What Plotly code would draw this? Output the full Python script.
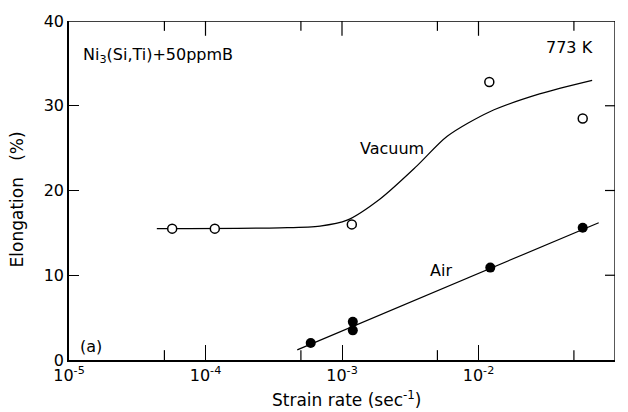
import plotly.graph_objects as go

# Data
vac_rate = [5.7e-5, 1.17e-4, 1.18e-3, 1.2e-2, 5.8e-2]
vac_elong = [15.5, 15.5, 16.0, 32.8, 28.5]
air_rate = [5.9e-4, 1.2e-3, 1.2e-3, 1.22e-2, 5.8e-2]
air_elong = [2.0, 4.5, 3.5, 10.9, 15.6]

# Hand-drawn trend curves
vac_curve_x = [4.4e-5, 3.5e-4, 6.9e-4, 1.09e-3, 1.9e-3, 3.54e-3, 5.9e-3, 1.21e-2, 2.8e-2, 6.8e-2]
vac_curve_y = [15.5, 15.6, 15.8, 16.5, 19.0, 22.9, 26.4, 29.3, 31.4, 33.0]
air_curve_x = [4.7e-4, 7.6e-2]
air_curve_y = [1.2, 16.2]

x_tickvals = [1e-5, 1e-4, 1e-3, 1e-2, 1e-1]
x_ticktext = ["10<sup>-5</sup>", "10<sup>-4</sup>", "10<sup>-3</sup>", "10<sup>-2</sup>", "10<sup>-1</sup>"]
x_minor = [5e-5, 5e-4, 5e-3, 5e-2]
y_tickvals = [0, 10, 20, 30, 40]

FONT = "DejaVu Sans"
X_RANGE = [-5, -1]          # log10 decades
Y_RANGE = [0, 40]
W, H = 628, 412
M = dict(l=69, r=13, t=16, b=52)
PLOT_W = W - M["l"] - M["r"]
PLOT_H = H - M["t"] - M["b"]
Y_PER_PX = (Y_RANGE[1] - Y_RANGE[0]) / PLOT_H
DEC_PER_PX = (X_RANGE[1] - X_RANGE[0]) / PLOT_W
MAJOR_LEN, MINOR_LEN, Y_TICK_LEN = 15, 10, 10

x_lo, x_hi = 10 ** X_RANGE[0], 10 ** X_RANGE[1]
y_lo, y_hi = Y_RANGE

# Frame (top and right sides) and the inward ticks along top, right and bottom-minor
frame_x = [x_lo, x_hi, x_hi]
frame_y = [y_hi, y_hi, y_lo]
tick_x, tick_y = [], []
for v in x_tickvals[1:-1]:
    tick_x += [v, v, None]
    tick_y += [y_hi, y_hi - MAJOR_LEN * Y_PER_PX, None]
for v in x_minor:
    tick_x += [v, v, None, v, v, None]
    tick_y += [y_hi, y_hi - MINOR_LEN * Y_PER_PX, None, y_lo, y_lo + MINOR_LEN * Y_PER_PX, None]
for v in y_tickvals[1:-1]:
    tick_x += [x_hi, 10 ** (X_RANGE[1] - Y_TICK_LEN * DEC_PER_PX), None]
    tick_y += [v, v, None]

fig = go.Figure()
fig.add_trace(go.Scatter(x=frame_x, y=frame_y, mode="lines", cliponaxis=False,
                         line=dict(color="black", width=1.3), hoverinfo="skip"))
fig.add_trace(go.Scatter(x=tick_x, y=tick_y, mode="lines", cliponaxis=False,
                         line=dict(color="black", width=1.2), hoverinfo="skip"))
fig.add_trace(go.Scatter(x=vac_curve_x, y=vac_curve_y, mode="lines",
                         line=dict(color="black", width=1.2, shape="spline", smoothing=0.8), hoverinfo="skip"))
fig.add_trace(go.Scatter(x=air_curve_x, y=air_curve_y, mode="lines",
                         line=dict(color="black", width=1.2), hoverinfo="skip"))
fig.add_trace(go.Scatter(x=vac_rate, y=vac_elong, mode="markers", name="Vacuum",
                         marker=dict(symbol="circle", size=9, color="white", line=dict(color="black", width=1.5))))
fig.add_trace(go.Scatter(x=air_rate, y=air_elong, mode="markers", name="Air",
                         marker=dict(symbol="circle", size=10, color="black")))

common = dict(ticks="inside", tickwidth=1.2, tickcolor="black", showgrid=False, zeroline=False)
fig.update_layout(
    xaxis=dict(type="log", range=X_RANGE, tickvals=x_tickvals, ticktext=x_ticktext, ticklen=MAJOR_LEN,
               showline=True, linecolor="black", linewidth=1.5,
               tickfont=dict(family=FONT, size=16, color="black"), **common),
    yaxis=dict(range=Y_RANGE, tickvals=y_tickvals, ticklen=Y_TICK_LEN,
               showline=True, linecolor="black", linewidth=1.5,
               tickfont=dict(family=FONT, size=16, color="black"), **common),
)

ann = dict(showarrow=False, font=dict(family=FONT, size=16, color="black"))
fig.add_annotation(x=0.022, y=0.897, xref="paper", yref="paper", xanchor="left", yanchor="middle",
                   text="Ni<sub>3</sub>(Si,Ti)+50ppmB", **ann)
fig.add_annotation(x=0.963, y=0.921, xref="paper", yref="paper", xanchor="right", yanchor="middle",
                   text="773 K", **ann)
fig.add_annotation(x=0.592, y=0.625, xref="paper", yref="paper", xanchor="center", yanchor="middle",
                   text="Vacuum", **ann)
fig.add_annotation(x=0.681, y=0.265, xref="paper", yref="paper", xanchor="center", yanchor="middle",
                   text="Air", **ann)
fig.add_annotation(x=0.016, y=0.041, xref="paper", yref="paper", xanchor="left", yanchor="middle",
                   text="(a)", **ann)
fig.add_annotation(x=-0.095, y=0.474, xref="paper", yref="paper", xanchor="center", yanchor="middle",
                   text="Elongation   (%)", textangle=-90,
                   showarrow=False, font=dict(family=FONT, size=17, color="black"))
fig.add_annotation(x=0.51, y=-0.114, xref="paper", yref="paper", xanchor="center", yanchor="middle",
                   text="Strain rate (sec<sup>-1</sup>)",
                   showarrow=False, font=dict(family=FONT, size=17, color="black"))

fig.update_layout(width=W, height=H, margin=M,
                  paper_bgcolor="white", plot_bgcolor="white", showlegend=False)
fig.write_html("out.html", config={"displayModeBar": False},
               post_script="document.body.style.margin='0';document.body.style.overflow='hidden';")
